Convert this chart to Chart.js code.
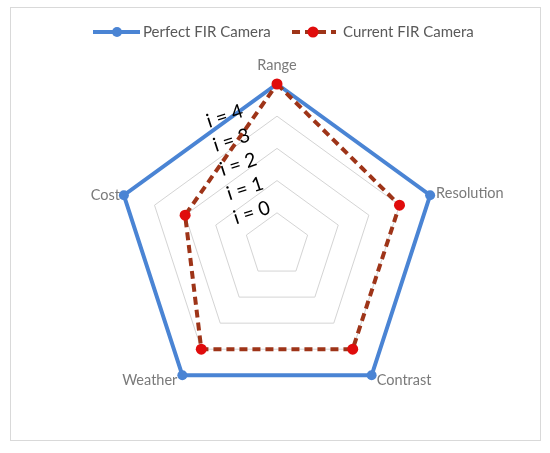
<!DOCTYPE html>
<html>
<head>
<meta charset="utf-8">
<script src="https://cdn.jsdelivr.net/npm/chart.js@4/dist/chart.umd.min.js"></script>
<style>
  html, body { margin: 0; padding: 0; background: #ffffff; }
  #wrap { width: 550px; height: 453px; position: relative; }
</style>
</head>
<body>
<div id="wrap"><canvas id="c" width="550" height="453"></canvas></div>
<script>
// ---- data ----
const categories = ["Range", "Resolution", "Contrast", "Weather", "Cost"];
const perfectValues = [5, 5, 5, 5, 5];
const currentValues = [5, 4, 4, 4, 3];
const seriesNames = ["Perfect FIR Camera", "Current FIR Camera"];
const levelLabels = ["i = 0", "i = 1", "i = 2", "i = 3", "i = 4"];
const tickValues = [0, 1, 2, 3, 4, 5];

const BLUE = "#4a84d4";
const DARKRED = "#9e3418";
const RED = "#e00c0c";
const FONT = "Lato, 'Open Sans', sans-serif";

const framePlugin = {
  id: "frame",
  beforeDraw(chart) {
    const ctx = chart.ctx;
    ctx.save();
    ctx.fillStyle = "#ffffff";
    ctx.fillRect(0, 0, chart.width, chart.height);
    ctx.strokeStyle = "#d9d9d9";
    ctx.lineWidth = 1;
    ctx.strokeRect(10.5, 7.5, 530, 433);
    ctx.restore();
  }
};

const labelsPlugin = {
  id: "customLabels",
  afterDraw(chart) {
    const ctx = chart.ctx;
    const scale = chart.scales.r;
    const R = scale.drawingArea;
    ctx.save();
    // point labels
    ctx.font = "14.5px " + FONT;
    ctx.fillStyle = "#7a7a7a";
    const offs = [
      {dx: 0, dy: -19, align: "center"},
      {dx: 6, dy: -2, align: "left"},
      {dx: 5, dy: 5, align: "left"},
      {dx: -5, dy: 5, align: "right"},
      {dx: -4, dy: 0, align: "right"}
    ];
    ctx.textBaseline = "middle";
    categories.forEach((c, i) => {
      const p = scale.getPointPosition(i, R);
      ctx.textAlign = offs[i].align;
      ctx.fillText(c, p.x + offs[i].dx, p.y + offs[i].dy);
    });
    // level annotations
    ctx.font = "19.5px " + FONT;
    ctx.fillStyle = "#000000";
    ctx.textAlign = "center";
    const unit = scale.getDistanceFromCenterForValue(1);
    levelLabels.forEach((t, i) => {
      const x = scale.xCenter - unit * (0.78 + 0.21 * i);
      const y = scale.yCenter - unit * (1 + 0.75 * i);
      ctx.save();
      ctx.translate(x, y);
      ctx.rotate(-18 * Math.PI / 180);
      ctx.fillText(t, 0, 0);
      ctx.restore();
    });
    // legend
    ctx.font = "15px " + FONT;
    ctx.fillStyle = "#595959";
    ctx.textAlign = "left";
    const ly = 32;
    // perfect
    ctx.strokeStyle = BLUE; ctx.lineWidth = 4; ctx.setLineDash([]);
    ctx.beginPath(); ctx.moveTo(93, ly); ctx.lineTo(140, ly); ctx.stroke();
    ctx.fillStyle = BLUE;
    ctx.beginPath(); ctx.arc(117, ly, 5, 0, Math.PI * 2); ctx.fill();
    ctx.fillStyle = "#595959";
    ctx.fillText(seriesNames[0], 143, ly);
    // current
    ctx.strokeStyle = DARKRED; ctx.lineWidth = 4; ctx.setLineDash([8, 5]);
    ctx.beginPath(); ctx.moveTo(292, ly); ctx.lineTo(336, ly); ctx.stroke();
    ctx.setLineDash([]);
    ctx.fillStyle = RED;
    ctx.beginPath(); ctx.arc(313, ly, 5.5, 0, Math.PI * 2); ctx.fill();
    ctx.fillStyle = "#595959";
    ctx.fillText(seriesNames[1], 343, ly);
    ctx.restore();
  }
};

new Chart(document.getElementById("c"), {
  type: "radar",
  data: {
    labels: categories,
    datasets: [
      {
        label: seriesNames[0],
        data: perfectValues,
        borderColor: BLUE,
        backgroundColor: "rgba(0,0,0,0)",
        borderWidth: 4,
        pointRadius: 5,
        pointBackgroundColor: BLUE,
        pointBorderWidth: 0,
        fill: false,
        order: 1
      },
      {
        label: seriesNames[1],
        data: currentValues,
        borderColor: DARKRED,
        backgroundColor: "rgba(0,0,0,0)",
        borderWidth: 4,
        borderDash: [8, 5],
        pointRadius: 5.5,
        pointBackgroundColor: RED,
        pointBorderWidth: 0,
        fill: false,
        order: 0
      }
    ]
  },
  options: {
    responsive: false,
    animation: false,
    layout: { padding: { left: 116, right: 112, top: 84, bottom: 47 } },
    plugins: { legend: { display: false }, tooltip: { enabled: false } },
    scales: {
      r: {
        min: tickValues[0],
        max: tickValues[tickValues.length - 1],
        ticks: { stepSize: 1, display: false },
        angleLines: { display: false },
        grid: { color: "#d4d4d4", lineWidth: 1 },
        pointLabels: { display: false }
      }
    }
  },
  plugins: [framePlugin, labelsPlugin]
});
</script>
</body>
</html>
